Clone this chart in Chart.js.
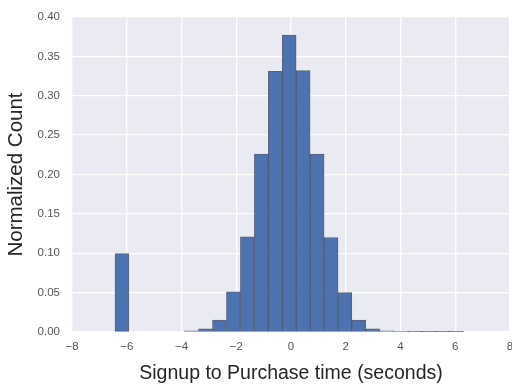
<!DOCTYPE html>
<html>
<head>
<meta charset="utf-8">
<script src="https://cdn.jsdelivr.net/npm/chart.js@4/dist/chart.umd.min.js"></script>
<style>
  html, body { margin: 0; padding: 0; background: #ffffff; }
  #wrap { width: 512px; height: 385px; }
</style>
</head>
<body>
<div id="wrap"><canvas id="c" width="512" height="385"></canvas></div>
<script>
// Histogram bin edges (seconds)
const binEdges = [-6.43, -5.92, -5.41, -4.90, -4.39, -3.89, -3.38, -2.87, -2.36, -1.85, -1.34, -0.83, -0.32, 0.19, 0.70, 1.21, 1.72, 2.22, 2.73, 3.24, 3.75, 4.26, 4.77, 5.28, 5.79, 6.30];
// Normalized count per bin
const counts = [0.0995, 0, 0, 0, 0, 0.0015, 0.004, 0.015, 0.051, 0.121, 0.226, 0.331, 0.377, 0.332, 0.226, 0.120, 0.050, 0.015, 0.004, 0.0015, 0.0006, 0.0004, 0.0003, 0.0003, 0.0003];
// Tick labels
const xTicks = [-8, -6, -4, -2, 0, 2, 4, 6, 8];
const yTicks = ['0.00', '0.05', '0.10', '0.15', '0.20', '0.25', '0.30', '0.35', '0.40'];

const points = counts.map((v, i) => ({ x: (binEdges[i] + binEdges[i + 1]) / 2, y: v }));

const bgPlugin = {
  id: 'plotBg',
  beforeDraw(chart) {
    const { ctx, chartArea: a } = chart;
    ctx.save();
    ctx.fillStyle = '#EAEAF2';
    ctx.fillRect(a.left, a.top, a.right - a.left, a.bottom - a.top);
    ctx.restore();
  }
};

const fontFam = '"Liberation Sans", Arial, Helvetica, sans-serif';

new Chart(document.getElementById('c'), {
  type: 'bar',
  data: {
    datasets: [{
      data: points,
      backgroundColor: '#4C72B0',
      borderColor: 'rgba(38,52,84,0.75)',
      borderWidth: 1,
      borderSkipped: false,
      categoryPercentage: 1.0,
      barPercentage: 1.0
    }]
  },
  options: {
    responsive: false,
    animation: false,
    devicePixelRatio: 1,
    layout: { padding: { top: 17, right: 2, left: 0, bottom: 0 } },
    plugins: { legend: { display: false }, tooltip: { enabled: false } },
    scales: {
      x: {
        type: 'linear',
        offset: false,
        min: -8, max: 8,
        afterFit(scale) { scale.height = 53; scale.paddingLeft = 0; scale.paddingRight = 0; },
        afterBuildTicks(scale) { scale.ticks = xTicks.map(v => ({ value: v })); },
        ticks: {
          padding: 8,
          maxRotation: 0,
          color: '#555555',
          font: { family: fontFam, size: 11.5 },
          callback: (v) => String(v).replace('-', '\u2212')
        },
        grid: { color: '#ffffff', lineWidth: 1.3, drawTicks: false, offset: false },
        border: { display: false },
        title: {
          display: true,
          text: 'Signup to Purchase time (seconds)',
          color: '#262626',
          font: { family: fontFam, size: 19.5 },
          padding: { top: 2, bottom: 0 }
        }
      },
      y: {
        min: 0, max: 0.4,
        afterFit(scale) { scale.width = 72; scale.paddingTop = 0; scale.paddingBottom = 0; },
        afterBuildTicks(scale) { scale.ticks = yTicks.map(t => ({ value: parseFloat(t) })); },
        ticks: {
          padding: 12,
          color: '#555555',
          font: { family: fontFam, size: 11.5 },
          callback: (v) => yTicks.find(t => Math.abs(parseFloat(t) - v) < 1e-9) || ''
        },
        grid: { color: '#ffffff', lineWidth: 1.3, drawTicks: false },
        border: { display: false },
        title: {
          display: true,
          text: 'Normalized Count',
          color: '#262626',
          font: { family: fontFam, size: 20.5 },
          padding: { top: 4, bottom: 4 }
        }
      }
    }
  },
  plugins: [bgPlugin]
});
</script>
</body>
</html>
